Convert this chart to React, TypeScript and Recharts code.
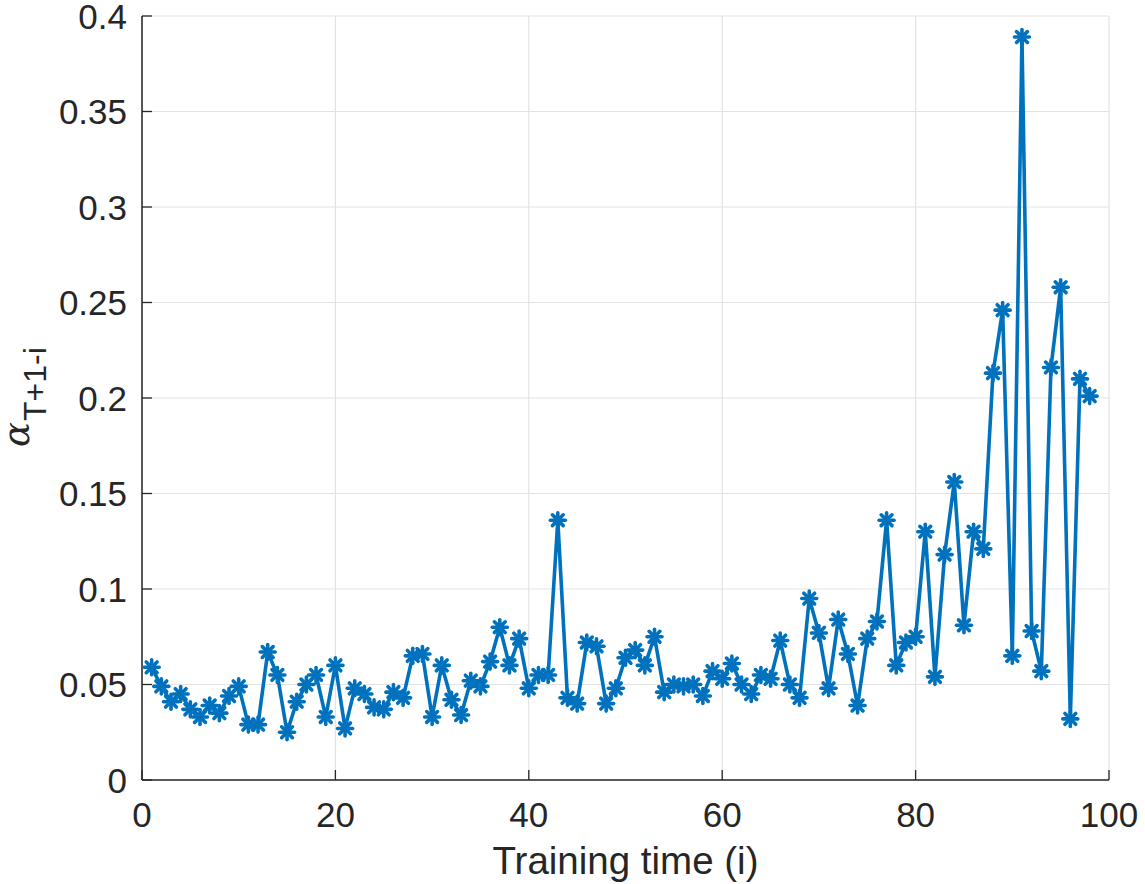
import { CartesianGrid, Line, LineChart, XAxis, YAxis } from 'recharts';

const steps = [
  1, 2, 3, 4, 5, 6, 7, 8, 9, 10, 11, 12, 13, 14, 15, 16, 17, 18, 19, 20,
  21, 22, 23, 24, 25, 26, 27, 28, 29, 30, 31, 32, 33, 34, 35, 36, 37, 38, 39, 40,
  41, 42, 43, 44, 45, 46, 47, 48, 49, 50, 51, 52, 53, 54, 55, 56, 57, 58, 59, 60,
  61, 62, 63, 64, 65, 66, 67, 68, 69, 70, 71, 72, 73, 74, 75, 76, 77, 78, 79, 80,
  81, 82, 83, 84, 85, 86, 87, 88, 89, 90, 91, 92, 93, 94, 95, 96, 97, 98,
];

const alpha = [
  0.059, 0.049, 0.041, 0.045, 0.037, 0.033, 0.039, 0.035, 0.044, 0.049,
  0.029, 0.029, 0.067, 0.055, 0.025, 0.041, 0.05, 0.055, 0.033, 0.06,
  0.027, 0.048, 0.045, 0.038, 0.037, 0.046, 0.043, 0.065, 0.066, 0.033,
  0.06, 0.042, 0.034, 0.052, 0.049, 0.062, 0.08, 0.06, 0.074, 0.048,
  0.055, 0.055, 0.136, 0.043, 0.04, 0.072, 0.07, 0.04, 0.048, 0.064,
  0.068, 0.06, 0.075, 0.046, 0.05, 0.049, 0.05, 0.044, 0.057, 0.053,
  0.061, 0.05, 0.045, 0.055, 0.053, 0.073, 0.05, 0.043, 0.095, 0.077,
  0.048, 0.084, 0.066, 0.039, 0.074, 0.083, 0.136, 0.06, 0.072, 0.075,
  0.13, 0.054, 0.118, 0.156, 0.081, 0.13, 0.121, 0.213, 0.246, 0.065,
  0.389, 0.078, 0.057, 0.216, 0.258, 0.032, 0.21, 0.201,
];

const xTicks = [0, 20, 40, 60, 80, 100];
const yTicks = [0, 0.05, 0.1, 0.15, 0.2, 0.25, 0.3, 0.35, 0.4];

const BLUE = '#0072bd';
const AXIS = '#262626';
const FONT = '"Liberation Sans", Arial, Helvetica, sans-serif';

const data = steps.map((s, i) => ({ step: s, alpha: alpha[i] }));

// MATLAB-style '*' marker
function Star({ cx, cy }: any) {
  if (cx == null || cy == null) return null;
  const r = 7.5;
  const d = r * 0.72;
  return (
    <g stroke={BLUE} strokeWidth={3.6} strokeLinecap="round">
      <line x1={cx - r} y1={cy} x2={cx + r} y2={cy} />
      <line x1={cx} y1={cy - r} x2={cx} y2={cy + r} />
      <line x1={cx - d} y1={cy - d} x2={cx + d} y2={cy + d} />
      <line x1={cx - d} y1={cy + d} x2={cx + d} y2={cy - d} />
    </g>
  );
}

function BottomTick({ x, y, payload }: any) {
  return (
    <g>
      <line x1={x} y1={y} x2={x} y2={y - 10} stroke={AXIS} strokeWidth={1.3} />
      <text x={x} y={y + 47} textAnchor="middle" fontSize={35} fill={AXIS} fontFamily={FONT}>
        {payload.value}
      </text>
    </g>
  );
}

function TopTick({ x, y }: any) {
  return <line x1={x} y1={y} x2={x} y2={y + 10} stroke={AXIS} strokeWidth={1.3} />;
}

function LeftTick({ x, y, payload }: any) {
  return (
    <g>
      <line x1={x} y1={y} x2={x + 10} y2={y} stroke={AXIS} strokeWidth={1.3} />
      <text x={x - 15} y={y} dy="0.36em" textAnchor="end" fontSize={35} fill={AXIS} fontFamily={FONT}>
        {payload.value}
      </text>
    </g>
  );
}

function RightTick({ x, y }: any) {
  return <line x1={x} y1={y} x2={x - 10} y2={y} stroke={AXIS} strokeWidth={1.3} />;
}

function XLabel({ viewBox }: any) {
  const { x, y, width } = viewBox;
  return (
    <text x={x + width / 2} y={y + 94} textAnchor="middle" fontSize={38.5} fill={AXIS} fontFamily={FONT}>
      Training time (i)
    </text>
  );
}

function YLabel({ viewBox }: any) {
  const { y, height } = viewBox;
  const cy = y + height / 2 + 49;
  return (
    <text transform={`translate(29, ${cy}) rotate(-90)`} fill={AXIS}>
      <tspan fontSize={37} fontStyle="italic" fontFamily='"DejaVu Serif", serif'>
        α
      </tspan>
      <tspan dx={1} dy={17} fontSize={32} fontFamily={FONT}>
        T+1-i
      </tspan>
    </text>
  );
}

export default function App() {
  return (
    <div style={{ position: 'absolute', left: 0, top: 0, background: '#fff' }}>
      <LineChart width={1145} height={884} data={data} margin={{ top: 16, right: 36, bottom: 0, left: 0 }}>
        <CartesianGrid stroke="#e3e3e3" strokeWidth={1.2} />
        <XAxis
          dataKey="step"
          type="number"
          domain={[0, 100]}
          ticks={xTicks}
          height={104}
          tickSize={0}
          tickMargin={0}
          tickLine={false}
          axisLine={{ stroke: AXIS, strokeWidth: 1.5 }}
          tick={<BottomTick />}
          label={{ content: <XLabel /> }}
        />
        <XAxis
          xAxisId="top"
          orientation="top"
          dataKey="step"
          type="number"
          domain={[0, 100]}
          ticks={xTicks}
          height={0}
          tickSize={0}
          tickMargin={0}
          tickLine={false}
          axisLine={{ stroke: AXIS, strokeWidth: 1.5 }}
          tick={<TopTick />}
        />
        <YAxis
          type="number"
          domain={[0, 0.4]}
          ticks={yTicks}
          width={142}
          tickSize={0}
          tickMargin={0}
          tickLine={false}
          axisLine={{ stroke: AXIS, strokeWidth: 1.5 }}
          tick={<LeftTick />}
          label={{ content: <YLabel /> }}
        />
        <YAxis
          yAxisId="right"
          orientation="right"
          type="number"
          domain={[0, 0.4]}
          ticks={yTicks}
          width={0}
          tickSize={0}
          tickMargin={0}
          tickLine={false}
          axisLine={{ stroke: AXIS, strokeWidth: 1.5 }}
          tick={<RightTick />}
        />
        <Line
          dataKey="alpha"
          stroke={BLUE}
          strokeWidth={3.6}
          strokeLinejoin="round"
          dot={(p: any) => <Star key={p.index} {...p} />}
          activeDot={false}
          isAnimationActive={false}
        />
      </LineChart>
    </div>
  );
}
